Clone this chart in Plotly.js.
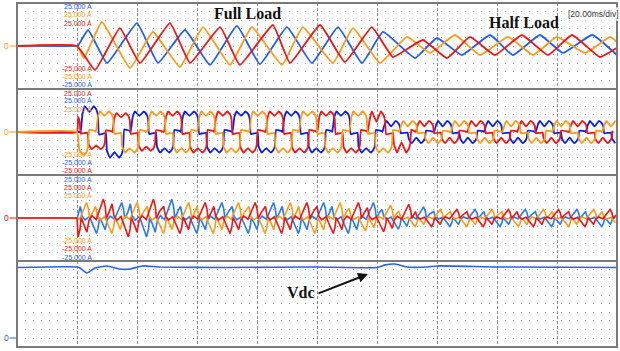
<!DOCTYPE html>
<html><head><meta charset="utf-8">
<script src="https://cdn.plot.ly/plotly-3.0.1.min.js"></script>
<style>html,body{margin:0;padding:0;background:#fff}#chart{width:620px;height:351px}</style>
</head><body><div id="chart"></div>
<script>
// Time in ms (20 ms/div). Currents in A (10 A/div), DC link voltage in V (50 V/div).

// ---- Panel 1: source phase currents (peak / valley points) ----
const p1BlueT = [0, 20, 20.3, 23.7, 30, 40, 47, 56, 64.3, 73.3, 81, 90, 98.3, 107, 115, 122, 132.7, 140, 148.3, 157.7, 165.3, 174.3, 182, 191.7, 200];
const p1BlueA = [0, 0, 0, 18.6, -19.8, 26.7, -19.8, 18.6, -22, 23.3, -21, 22, -19.8, 22, -19.8, 16.3, -14, 9.3, -10.5, 12.8, -10.5, 12.8, -8.1, 12.8, -10.5];
const p1OrangeT = [0, 20, 22.3, 28.3, 37.7, 45.3, 54.3, 62, 71, 78.3, 88.3, 95.3, 105.3, 112, 121, 130, 137.7, 146, 154.3, 163.7, 172, 180, 189.3, 197.7, 200];
const p1OrangeA = [0, 0, -14, 27.9, -25.6, 16.3, -24.4, 22, -22, 22, -22, 22, -19.8, 20.9, -19.8, 10.5, -8.1, 12.8, -10.5, 10.5, -10.5, 10.5, -8.1, 10.5, 4.7];
const p1RedT = [0, 20, 26, 34.3, 41, 51, 57.7, 67.7, 74.3, 85.3, 91, 101, 109.3, 118.3, 125.3, 135.3, 143.3, 151, 159.3, 168.3, 177, 185, 194.3, 200];
const p1RedA = [0, 0, -27.9, 20.9, -19.8, 26.7, -19.8, 22, -22, 24.4, -19.8, 24.4, -18.6, 22, -12.8, 7, -14, 10.5, -10.5, 12.8, -10.5, 12.8, -12.8, -2];

// ---- Panel 2: load phase currents (120-degree conduction blocks with two humps) ----
// one conduction cycle, ms from the start of the positive block, level as a fraction of the hump peak
const p2ShapeMs   = [-0.3, 0.35, 1.1, 2.6, 4.1, 5.0, 5.5, 5.85, 8.1, 8.45, 9.5, 11.0, 12.5, 13.4, 13.9, 14.25, 16.2];
const p2ShapeFull = [0, 0.72, 1, 0.78, 1, 0.86, 0.62, -0.1, -0.04, -0.72, -1, -0.78, -1, -0.86, -0.62, 0.1, 0.04];
const p2ShapeHalf = [0, 0.6, 1, 0.5, 1, 0.8, 0.55, -0.12, -0.05, -0.6, -1, -0.5, -1, -0.8, -0.55, 0.12, 0.05];
// start of each positive block (ms) per phase, and the hump peak (A) of that cycle
const p2BlueStart   = [4.7, 21.5, 38.2, 54.9, 72.1, 88.8, 105.4, 122.1, 139.3, 156.0, 173.2, 189.9];
const p2BluePeak    = [0, 30, 24, 24, 24, 24, 24, 13, 13, 13, 13, 13];
const p2OrangeStart = [9.8, 26.6, 43.8, 60.4, 77.7, 94.3, 111.1, 127.7, 144.9, 162.1, 178.8, 195.4];
const p2OrangePeak  = [27, 24, 24, 24, 24, 24, 24, 13, 13, 13, 13, 13];
const p2RedStart    = [15.4, 32.1, 49.3, 66.0, 83.2, 100.4, 117.2, 133.2, 150.4, 167.1, 184.3];
const p2RedPeak     = [20, 22, 24, 24, 24, 24, 24, 13, 13, 13, 13];
const loadStepMs = 121.7;   // full load -> half load

// ---- Panel 3: compensating phase currents (sawtooth ripple locked to the load blocks) ----
const p3ShapeMs = [-0.4, 0.2, 1.2, 2.6, 3.4, 4.0, 5.0, 5.6, 6.0, 7.0, 7.9, 8.6, 9.6, 11.0, 11.8, 12.4, 13.4, 14.0, 14.4, 15.4];
const p3Shape   = [0.75, 0.12, -0.12, 0.08, -0.25, -0.55, -1, -0.6, 0.02, -0.35, -0.75, -0.12, 0.12, -0.08, 0.25, 0.55, 1, 0.6, -0.02, 0.35];
const p3BluePeak   = [0, 18, 22, 18, 18, 18, 18, 13, 10, 10, 10, 10];
const p3OrangePeak = [18, 18, 18, 18, 18, 18, 15, 10, 10, 10, 10, 10];
const p3RedPeak    = [22, 22, 18, 18, 18, 18, 16, 10, 10, 10, 10];

// ---- Panel 4: DC link voltage ----
const vdcT = [0, 20, 21, 23.3, 26, 30, 34.3, 37.7, 41.7, 47.7, 70, 100, 120, 122.7, 126, 130, 136.7, 140, 160, 200];
const vdcV = [410, 413, 407, 378, 407, 419, 401, 401, 419, 413, 410, 413, 410, 425, 430, 413, 413, 419, 413, 410];

const BLUE = '#1f5cf5', ORANGE = '#ff9a1a', RED = '#f01414';
const GRIDC = '#8f8f8f', FRAME = '#7a7a7a';

// assemble a trace from per-cycle blocks: cycle start times, cycle peaks, offsets and levels
function blocks(starts, peaks, ms, shapeOf) {
  const t = [0, 20], v = [0, 0];
  starts.forEach((s, k) => {
    const shape = shapeOf(s);
    const first = s + ms[0];
    while (t.length > 2 && t[t.length - 1] >= first) { t.pop(); v.pop(); }
    ms.forEach((d, i) => {
      const tt = s + d;
      if (tt > 20 && tt <= 200) { t.push(tt); v.push(shape[i] * peaks[k]); }
    });
  });
  return {t: t, v: v};
}
const loadShape = s => (s < loadStepMs - 8 ? p2ShapeFull : p2ShapeHalf);
const p2Blue = blocks(p2BlueStart, p2BluePeak, p2ShapeMs, loadShape);
const p2Orange = blocks(p2OrangeStart, p2OrangePeak, p2ShapeMs, loadShape);
const p2Red = blocks(p2RedStart, p2RedPeak, p2ShapeMs, loadShape);
const p3Blue = blocks(p2BlueStart, p3BluePeak, p3ShapeMs, () => p3Shape);
const p3Orange = blocks(p2OrangeStart, p3OrangePeak, p3ShapeMs, () => p3Shape);
const p3Red = blocks(p2RedStart, p3RedPeak, p3ShapeMs, () => p3Shape);

// plot area: 600 x 344 px, offset (17, 3)
const px = v => (v - 17) / 600;
const py = v => (347 - v) / 344;

function wave(t, v, color, yax, w, smooth) {
  return {x: t, y: v, type: 'scatter', mode: 'lines', xaxis: 'x', yaxis: yax,
    line: {color: color, width: w || 1.8, shape: smooth ? 'spline' : 'linear', smoothing: smooth || 0},
    hoverinfo: 'skip', showlegend: false};
}

const traces = [
  wave(p1BlueT, p1BlueA, BLUE, 'y', 1.8, 0.35),
  wave(p1OrangeT, p1OrangeA, ORANGE, 'y', 1.8, 0.35),
  wave(p1RedT, p1RedA, RED, 'y', 1.8, 0.35),
  wave(p2Blue.t, p2Blue.v, '#0a1ee6', 'y2', 1.8, 0.3),
  wave(p2Red.t, p2Red.v, RED, 'y2', 1.8, 0.3),
  wave(p2Orange.t, p2Orange.v, ORANGE, 'y2', 1.8, 0.3),
  wave(p3Blue.t, p3Blue.v, '#2a78f0', 'y3', 1.6),
  wave(p3Orange.t, p3Orange.v, ORANGE, 'y3', 1.6),
  wave(p3Red.t, p3Red.v, RED, 'y3', 1.6),
  wave(vdcT, vdcV, '#2a64e0', 'y4', 1.6, 0.5)
];

function yax(domain, range, dtick) {
  return {domain: domain, range: range, dtick: dtick, tick0: 0, showticklabels: false, ticks: '',
    showgrid: true, gridcolor: GRIDC, griddash: '1px,7px', gridwidth: 1,
    zeroline: false, showline: false, fixedrange: true, anchor: 'x'};
}

const ann = [];
const shapes = [];

// channel scale labels
const lbl = [
  ['25.000 A', BLUE, 6.5], ['25.000 A', ORANGE, 15], ['25.000 A', RED, 23.5],
  ['-25.000 A', RED, 68.5], ['-25.000 A', ORANGE, 76.5], ['-25.000 A', BLUE, 84.5],
  ['25.000 A', RED, 93], ['25.000 A', BLUE, 101], ['25.000 A', ORANGE, 109.5],
  ['-25.000 A', ORANGE, 154.5], ['-25.000 A', BLUE, 162.5], ['-25.000 A', RED, 170.5],
  ['25.000 A', BLUE, 179], ['25.000 A', RED, 187], ['25.000 A', ORANGE, 195.5],
  ['-25.000 A', ORANGE, 240.5], ['-25.000 A', RED, 249], ['-25.000 A', BLUE, 257.5]
];
lbl.forEach(l => ann.push({text: l[0], xref: 'paper', yref: 'paper', x: px(93), y: py(l[2]),
  xanchor: 'right', yanchor: 'middle', showarrow: false, borderpad: 0,
  font: {family: 'Liberation Sans, Arial, sans-serif', size: 7, color: l[1]}}));

// zero markers on the left edge
[[46, ORANGE], [132, ORANGE], [218, RED], [338, '#2a64e0']].forEach(z => {
  ann.push({text: '0', xref: 'paper', yref: 'paper', x: px(6), y: py(z[0]), xanchor: 'center', yanchor: 'middle',
    showarrow: false, font: {family: 'Liberation Sans, Arial, sans-serif', size: 8.5, color: z[1]}});
  shapes.push({type: 'line', xref: 'paper', yref: 'paper', x0: px(9.5), x1: px(17), y0: py(z[0]), y1: py(z[0]),
    line: {color: z[1], width: 1}});
});

// frame and panel separators
shapes.push({type: 'rect', xref: 'paper', yref: 'paper', x0: 0, x1: 1, y0: 0, y1: 1, line: {color: FRAME, width: 2}});
[0.25, 0.5, 0.75].forEach(y => shapes.push({type: 'line', xref: 'paper', yref: 'paper', x0: 0, x1: 1, y0: y, y1: y,
  line: {color: FRAME, width: 2}}));

const serif = 'Liberation Serif, Times New Roman, serif';
ann.push({text: '<b>Full Load</b>', xref: 'paper', yref: 'paper', x: px(247), y: py(14), xanchor: 'center', yanchor: 'middle',
  showarrow: false, font: {family: serif, size: 16, color: '#111'}});
ann.push({text: '<b>Half Load</b>', xref: 'paper', yref: 'paper', x: px(524), y: py(23), xanchor: 'center', yanchor: 'middle',
  showarrow: false, font: {family: serif, size: 16, color: '#111'}});
ann.push({text: '[20.00ms/div]', xref: 'paper', yref: 'paper', x: px(593), y: py(13.5), xanchor: 'center', yanchor: 'middle',
  showarrow: false, bgcolor: '#ffffff', borderpad: 1,
  font: {family: 'Liberation Sans, Arial, sans-serif', size: 8.5, color: '#333'}});
ann.push({text: '<b>Vdc</b>', xref: 'paper', yref: 'paper', x: px(301), y: py(292), xanchor: 'center', yanchor: 'middle',
  showarrow: false, font: {family: serif, size: 16, color: '#111'}});
ann.push({text: '', xref: 'paper', yref: 'paper', x: px(368), y: py(274), ax: -51, ay: 20, axref: 'pixel', ayref: 'pixel',
  showarrow: true, arrowhead: 2, arrowsize: 1, arrowwidth: 2, arrowcolor: '#111', standoff: 0, startstandoff: 0});

const layout = {
  width: 620, height: 351, margin: {l: 17, r: 3, t: 3, b: 4},
  paper_bgcolor: '#ffffff', plot_bgcolor: '#ffffff', showlegend: false,
  xaxis: {range: [0, 200], dtick: 20, tick0: 0, showgrid: true, gridcolor: GRIDC, griddash: '3px,2px', gridwidth: 1,
    showticklabels: false, ticks: '', zeroline: false, showline: false, fixedrange: true, anchor: 'y4'},
  yaxis: yax([0.75, 1], [-50, 50], 10),
  yaxis2: yax([0.5, 0.75], [-50, 50], 10),
  yaxis3: yax([0.25, 0.5], [-50, 50], 10),
  yaxis4: yax([0, 0.25], [-52.3, 447.7], 50),
  annotations: ann, shapes: shapes
};

Plotly.newPlot('chart', traces, layout, {staticPlot: true, displayModeBar: false});
</script></body></html>
